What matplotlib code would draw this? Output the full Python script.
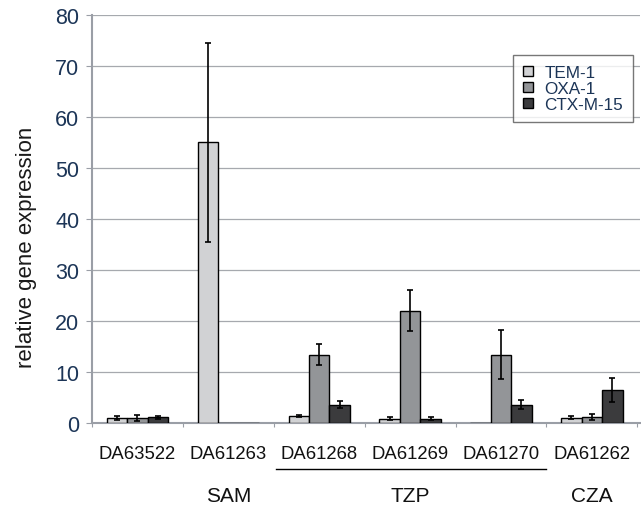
import matplotlib
matplotlib.use('Agg')

import matplotlib.pyplot as plt
import numpy as np

plt.rcParams.update({
    'font.family': ['Liberation Sans', 'DejaVu Sans'],
})

# data
strains = ['DA63522', 'DA61263', 'DA61268', 'DA61269', 'DA61270', 'DA61262']
genes = ['TEM-1', 'OXA-1', 'CTX-M-15']
tem1 = [1.0, 55.0, 1.4, 0.8, 0.0, 1.0]
tem1_err = [0.4, 19.5, 0.2, 0.3, 0.0, 0.3]
oxa1 = [1.0, 0.0, 13.4, 22.0, 13.4, 1.1]
oxa1_err = [0.6, 0.0, 2.0, 4.0, 4.8, 0.6]
ctx = [1.1, 0.0, 3.6, 0.8, 3.6, 6.5]
ctx_err = [0.3, 0.0, 0.7, 0.3, 0.9, 2.4]
colors = ['#d1d2d4', '#939598', '#3b3b3d']
groups = [('SAM', 1, 1), ('TZP', 2, 4), ('CZA', 5, 5)]

fig = plt.figure(figsize=(6.41, 5.10), dpi=100)
ax = fig.add_axes([92/641, 1-424/510, 548/641, 408/510])

x = np.arange(len(strains))
w = 0.225
series = [(tem1, tem1_err), (oxa1, oxa1_err), (ctx, ctx_err)]
for i, (vals, errs) in enumerate(series):
    xs = x + (i - 1) * w
    v = np.array(vals)
    e = np.array(errs)
    ax.bar(xs, v, width=w, color=colors[i], edgecolor='black', linewidth=1.0,
           label=genes[i], zorder=3)
    m = v > 0
    ax.errorbar(xs[m], v[m], yerr=e[m], fmt='none', ecolor='black',
                elinewidth=1.2, capsize=2.5, capthick=1.2, zorder=4)

ax.set_xlim(-0.5, len(strains) - 0.47)
ax.set_ylim(0, 80)
ax.set_yticks(np.arange(0, 81, 10))
ax.set_xticks(np.arange(len(strains) + 1) - 0.5, minor=False)
ax.set_xticklabels([])
ax.tick_params(axis='x', length=3, color='#9a9ea6')
ax.tick_params(axis='y', length=4, color='#9a9ea6', labelsize=15.5,
               labelcolor='#1c3557', pad=5)
ax.grid(axis='y', color='#a6a9ae', linewidth=0.9, zorder=0)

for s in ['top', 'right']:
    ax.spines[s].set_visible(False)
for s in ['left', 'bottom']:
    ax.spines[s].set_color('#9a9ea6')
    ax.spines[s].set_linewidth(1.5)

ax.set_ylabel('relative gene expression', fontsize=16, color='#1a1a1a')
ax.yaxis.set_label_coords(-0.100, 0.434)

# strain labels and group labels
for xi, name in zip(x, strains):
    ax.text(xi, -5.9, name, ha='center', va='center', fontsize=13.3,
            color='#111111', clip_on=False)
for gname, a, b in groups:
    ax.text((a + b) / 2, -14.3, gname, ha='center', va='center', fontsize=15,
            color='#111111', clip_on=False)
ax.plot([1.52, 4.5], [-9.0, -9.0], color='black', linewidth=1.0,
        clip_on=False)

leg = ax.legend(loc='upper left', bbox_to_anchor=(0.768, 0.902),
                fontsize=12.3, frameon=True, fancybox=False,
                handlelength=0.55, handleheight=0.55, handletextpad=0.7,
                borderpad=0.6, labelspacing=0.05, borderaxespad=0)
leg.get_frame().set_edgecolor('#555555')
leg.get_frame().set_linewidth(1.0)
for t in leg.get_texts():
    t.set_color('#1c3557')

fig.savefig('out.png', dpi=100)
